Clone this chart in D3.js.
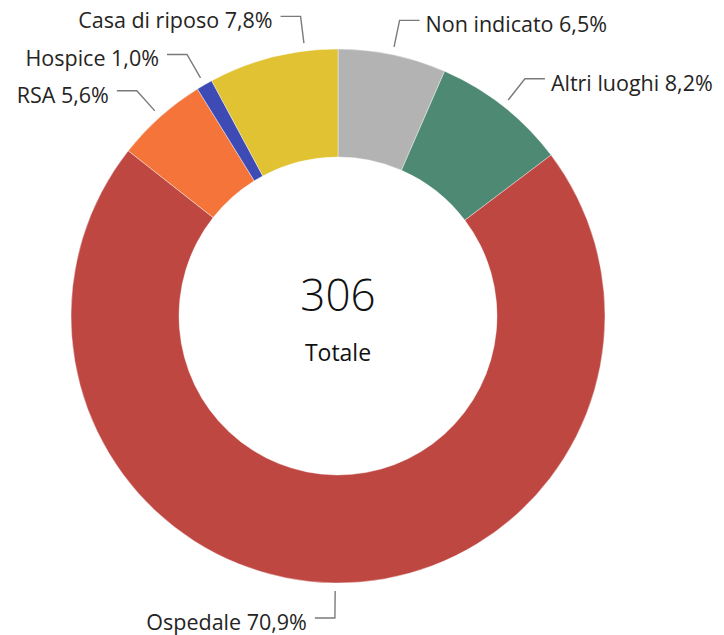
<!DOCTYPE html>
<html>
<head>
  <meta charset="utf-8">
  <style>
    body { margin: 0; background: #fff; }
    text { font-family: "Segoe UI", "Open Sans", sans-serif; fill: #252423; }
  </style>
  <title>Luogo del decesso</title>
</head>
<body>
  <script src="https://cdn.jsdelivr.net/npm/d3@7"></script>
  <script>
    // data (counts out of 306)
    var categories = ["Non indicato", "Altri luoghi", "Ospedale", "RSA", "Hospice", "Casa di riposo"];
    var counts = [20, 25, 217, 17, 3, 24];
    var colors = ["#b3b3b3", "#4e8a73", "#bf4742", "#f5743a", "#3f4bb4", "#e0c233"];
    var totalLabel = "Totale";

    // layout
    var width = 724, height = 635;
    var cx = 338, cy = 316;
    var outerR = 267, innerR = 159;
    // label nudges in degrees (the "Casa di riposo" label is pushed up to avoid Hospice)
    var labelShift = { "Casa di riposo": 7 };

    var total = d3.sum(counts);
    var fmtPct = function (v) { return d3.format(".1f")(v * 100).replace(".", ",") + "%"; };

    var data = categories.map(function (c, i) {
      return { name: c, value: counts[i], color: colors[i] };
    });

    var svg = d3.select("body").append("svg")
      .attr("width", width)
      .attr("height", height);

    var g = svg.append("g").attr("transform", "translate(" + cx + "," + cy + ")");

    var pie = d3.pie().sort(null).value(function (d) { return d.value; });
    var arc = d3.arc().innerRadius(innerR).outerRadius(outerR);
    var arcs = pie(data);

    g.selectAll("path.slice").data(arcs).enter().append("path")
      .attr("class", "slice")
      .attr("d", arc)
      .attr("fill", function (d) { return d.data.color; })
      .attr("stroke", "#fff")
      .attr("stroke-width", 0.4);

    // point on a circle of radius r at angle a (d3.pie convention: 0 = 12 o'clock, clockwise)
    function pt(r, a) { return [r * Math.sin(a), -r * Math.cos(a)]; }

    arcs.forEach(function (d) {
      var a = (d.startAngle + d.endAngle) / 2 + (labelShift[d.data.name] || 0) * Math.PI / 180;
      var p0 = pt(outerR + 8, a);
      var p1 = pt(outerR + 35, a);
      var right = Math.sin(a) >= 0;
      var p2 = [p1[0] + (right ? 20 : -20), p1[1]];

      g.append("polyline")
        .attr("points", [p0, p1, p2].map(function (p) { return p.join(","); }).join(" "))
        .attr("fill", "none")
        .attr("stroke", "#7a7a7a")
        .attr("stroke-width", 1.4);

      g.append("text")
        .attr("x", p2[0] + (right ? 6 : -8))
        .attr("y", p1[1] + 3.5)
        .attr("dominant-baseline", "central")
        .attr("text-anchor", right ? "start" : "end")
        .style("font-size", "21.5px")
        .text(d.data.name + " " + fmtPct(d.data.value / total));
    });

    // centre total
    g.append("text")
      .attr("text-anchor", "middle")
      .attr("y", -5)
      .style("font-size", "44px")
      .style("font-weight", 300)
      .style("fill", "#111")
      .text(total);

    g.append("text")
      .attr("text-anchor", "middle")
      .attr("y", 45)
      .style("font-size", "23px")
      .style("fill", "#111")
      .text(totalLabel);
  </script>
</body>
</html>
